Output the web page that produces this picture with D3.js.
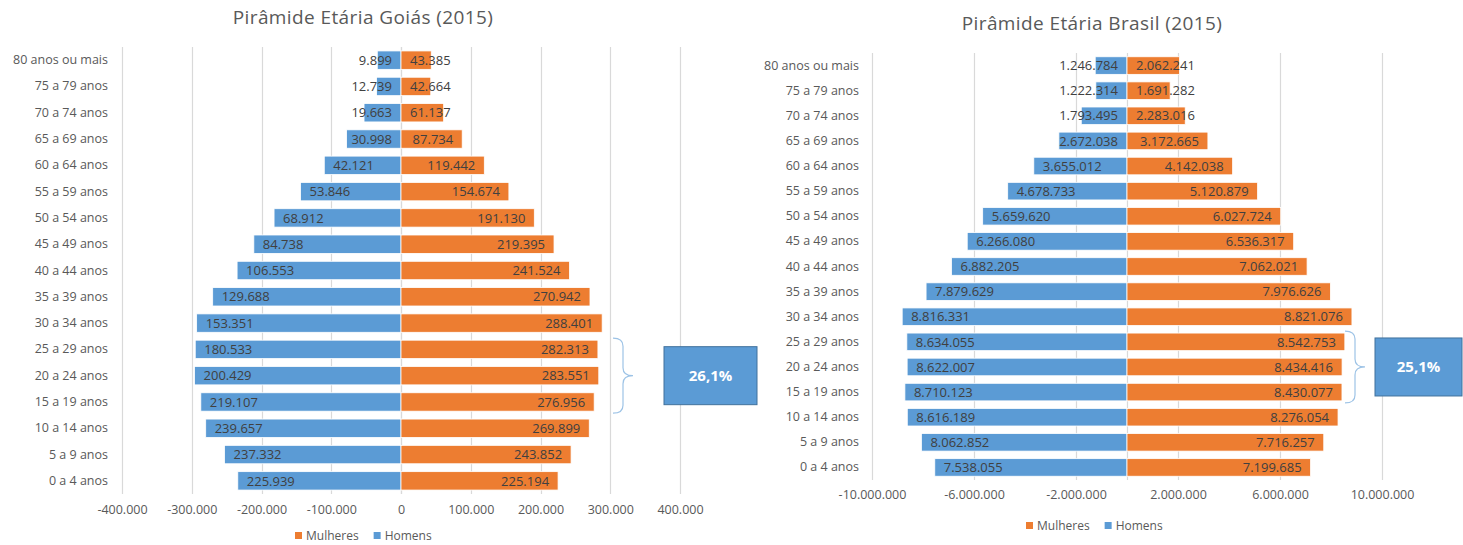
<!DOCTYPE html>
<html>
<head>
<meta charset="utf-8">
<script src="https://cdn.jsdelivr.net/npm/d3@7"></script>
<style>
  body { margin: 0; background: #fff; }
  text { font-family: "Open Sans", sans-serif; }
</style>
</head>
<body>
<div id="chart"></div>
<script>
// age groups, top row first
var categories = ["80 anos ou mais", "75 a 79 anos", "70 a 74 anos", "65 a 69 anos", "60 a 64 anos",
  "55 a 59 anos", "50 a 54 anos", "45 a 49 anos", "40 a 44 anos", "35 a 39 anos", "30 a 34 anos",
  "25 a 29 anos", "20 a 24 anos", "15 a 19 anos", "10 a 14 anos", "5 a 9 anos", "0 a 4 anos"];

// Goiás 2015
var mulheresGO = [43385, 42664, 61137, 87734, 119442, 154674, 191130, 219395, 241524, 270942,
  288401, 282313, 283551, 276956, 269899, 243852, 225194];
// bar lengths as drawn in the source (its labels show another column)
var homensGO = [34000, 35000, 53000, 78000, 110000, 144000, 182000, 211000, 235000, 270000,
  293000, 295000, 296000, 287000, 280000, 253000, 234000];
var homensLabelsGO = [9899, 12739, 19663, 30998, 42121, 53846, 68912, 84738, 106553, 129688,
  153351, 180533, 200429, 219107, 239657, 237332, 225939];
var ticksGO = [-400000, -300000, -200000, -100000, 0, 100000, 200000, 300000, 400000];

// Brasil 2015
var mulheresBR = [2062241, 1691282, 2283016, 3172665, 4142038, 5120879, 6027724, 6536317, 7062021,
  7976626, 8821076, 8542753, 8434416, 8430077, 8276054, 7716257, 7199685];
var homensBR = [1246784, 1222314, 1793495, 2672038, 3655012, 4678733, 5659620, 6266080, 6882205,
  7879629, 8816331, 8634055, 8622007, 8710123, 8616189, 8062852, 7538055];
var ticksBR = [-10000000, -6000000, -2000000, 2000000, 6000000, 10000000];

var legendItems = ["Mulheres", "Homens"];
var orange = "#ed7d31", blue = "#5b9bd5";

var br = d3.formatLocale({decimal: ",", thousands: ".", grouping: [3], currency: ["R$", ""], minus: "-"});
var fmt = br.format(",d");

var svg = d3.select("#chart").append("svg")
  .attr("width", 1463)
  .attr("height", 545);

function pyramid(o) {
  var g = svg.append("g");

  var x = d3.scaleLinear().domain(o.domain).range(o.xRange);
  var y = d3.scaleBand().domain(categories).range(o.yRange)
    .paddingInner(0.3).paddingOuter(0.15);

  // title
  g.append("text")
    .attr("x", o.titleX).attr("y", o.titleY)
    .attr("text-anchor", "middle")
    .attr("font-size", 19)
    .attr("letter-spacing", 0.4)
    .attr("fill", "#595959")
    .text(o.title);

  // gridlines
  g.selectAll(".grid").data(o.ticks.concat([0]))
    .enter().append("line")
    .attr("x1", function(d) { return Math.round(x(d)) + 0.5; })
    .attr("x2", function(d) { return Math.round(x(d)) + 0.5; })
    .attr("y1", o.yRange[0]).attr("y2", o.yRange[1])
    .attr("stroke", "#d9d9d9")
    .attr("stroke-width", 1.2);

  // x axis labels
  var xAxis = d3.axisBottom(x).tickValues(o.ticks).tickSize(0).tickPadding(0).tickFormat(fmt);
  g.append("g")
    .attr("transform", "translate(0," + o.axisY + ")")
    .call(xAxis)
    .call(function(a) { a.select(".domain").remove(); })
    .selectAll("text")
      .attr("font-size", 12.5)
      .attr("font-family", "Open Sans, sans-serif")
      .attr("fill", "#595959");

  // category labels
  g.append("g")
    .attr("transform", "translate(" + o.catX + ",0)")
    .call(d3.axisLeft(y).tickSize(0).tickPadding(0))
    .call(function(a) { a.select(".domain").remove(); })
    .selectAll("text")
      .attr("font-size", 12.5)
      .attr("font-family", "Open Sans, sans-serif")
      .attr("fill", "#595959");

  var rows = categories.map(function(c, i) {
    return {cat: c, h: o.homens[i], hl: o.homensLabels[i], m: o.mulheres[i]};
  });

  // bars
  g.selectAll(".barH").data(rows).enter().append("rect")
    .attr("x", function(d) { return x(-d.h); })
    .attr("y", function(d) { return y(d.cat); })
    .attr("width", function(d) { return x(0) - x(-d.h); })
    .attr("height", y.bandwidth())
    .attr("fill", blue)
    .attr("stroke", "#fff").attr("stroke-width", 0.8);

  g.selectAll(".barM").data(rows).enter().append("rect")
    .attr("x", x(0))
    .attr("y", function(d) { return y(d.cat); })
    .attr("width", function(d) { return x(d.m) - x(0); })
    .attr("height", y.bandwidth())
    .attr("fill", orange)
    .attr("stroke", "#fff").attr("stroke-width", 0.8);

  // data labels (inside end, kept off the base)
  var pad = 9;
  g.selectAll(".lblH").data(rows).enter().append("text")
    .attr("y", function(d) { return y(d.cat) + y.bandwidth() / 2; })
    .attr("dy", "0.36em")
    .attr("font-size", 13)
    .attr("fill", "#404040")
    .text(function(d) { return fmt(d.hl); })
    .attr("x", function(d) {
      var w = this.getComputedTextLength();
      return Math.min(x(-d.h) + pad, x(0) - pad - w);
    });

  g.selectAll(".lblM").data(rows).enter().append("text")
    .attr("y", function(d) { return y(d.cat) + y.bandwidth() / 2; })
    .attr("dy", "0.36em")
    .attr("text-anchor", "end")
    .attr("font-size", 13)
    .attr("fill", "#404040")
    .text(function(d) { return fmt(d.m); })
    .attr("x", function(d) {
      var w = this.getComputedTextLength();
      return Math.max(x(d.m) - pad, x(0) + pad + w);
    });

  // brace over 15-29 years and callout box
  var top = y("25 a 29 anos") - 2;
  var bot = y("15 a 19 anos") + y.bandwidth() + 2;
  var mid = (top + bot) / 2;
  var bx = o.braceX, r = 8;
  var p = d3.path();
  p.moveTo(bx - 10, top);
  p.quadraticCurveTo(bx, top, bx, top + r);
  p.lineTo(bx, mid - r);
  p.quadraticCurveTo(bx, mid, bx + 10, mid);
  p.quadraticCurveTo(bx, mid, bx, mid + r);
  p.lineTo(bx, bot - r);
  p.quadraticCurveTo(bx, bot, bx - 10, bot);
  g.append("path").attr("d", p.toString())
    .attr("fill", "none").attr("stroke", "#9dc3e6").attr("stroke-width", 1.2);

  g.append("rect")
    .attr("x", o.boxX).attr("y", mid - 29)
    .attr("width", o.boxW).attr("height", 58)
    .attr("fill", blue).attr("stroke", "#41719c").attr("stroke-width", 1);
  g.append("text")
    .attr("x", o.boxX + o.boxW / 2).attr("y", mid)
    .attr("dy", "0.36em")
    .attr("text-anchor", "middle")
    .attr("font-size", 15).attr("font-weight", "bold")
    .attr("fill", "#fff")
    .text(o.boxText);

  // legend
  var lg = g.append("g").attr("transform", "translate(" + o.legendX + "," + o.legendY + ")");
  var off = 0;
  legendItems.forEach(function(name, i) {
    lg.append("rect").attr("x", off).attr("y", -4).attr("width", 7).attr("height", 7)
      .attr("fill", i === 0 ? orange : blue);
    var t = lg.append("text").attr("x", off + 11).attr("y", 0).attr("dy", "0.36em")
      .attr("font-size", 12).attr("fill", "#595959").text(name);
    off += 11 + t.node().getComputedTextLength() + 15;
  });
}

pyramid({
  title: "Pirâmide Etária Goiás (2015)", titleX: 363, titleY: 24,
  domain: [-400000, 400000], xRange: [122, 680], yRange: [47, 494],
  ticks: ticksGO, axisY: 505, catX: 108,
  homens: homensGO, homensLabels: homensLabelsGO, mulheres: mulheresGO,
  braceX: 623, boxX: 664, boxW: 93, boxText: "26,1%",
  legendX: 295, legendY: 536
});

pyramid({
  title: "Pirâmide Etária Brasil (2015)", titleX: 1092, titleY: 30,
  domain: [-10000000, 10000000], xRange: [872, 1382], yRange: [53, 480],
  ticks: ticksBR, axisY: 490, catX: 859,
  homens: homensBR, homensLabels: homensBR, mulheres: mulheresBR,
  braceX: 1355, boxX: 1375, boxW: 87, boxText: "25,1%",
  legendX: 1026, legendY: 526
});
</script>
</body>
</html>
